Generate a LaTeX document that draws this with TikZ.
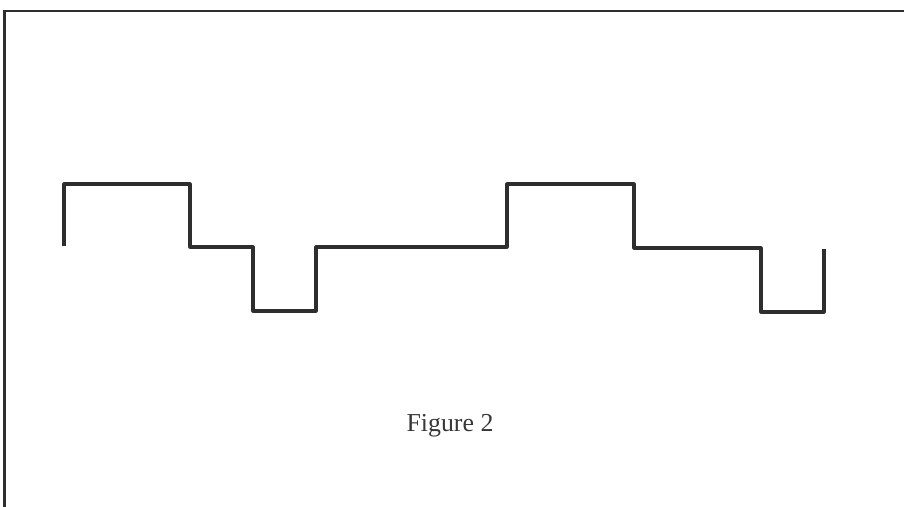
\documentclass[tikz,border=0pt]{standalone}
\usepackage{fontspec}
\setmainfont{Liberation Serif}
\begin{document}
\begin{tikzpicture}[x=0.75pt,y=-0.75pt,
  ink/.style={draw=black!82},
  frameline/.style={ink,line width=2pt},
  wave/.style={ink,line width=2.3pt,line join=round,line cap=butt},
  caption/.style={text=black!78,font=\fontsize{19.4}{22}\selectfont,inner sep=0pt}]
  \useasboundingbox (0,0) rectangle (904,507);
  % frame: top edge and left edge
  \coordinate (tl) at (4.5,11);
  \coordinate (tr) at (904,11);
  \coordinate (bl) at (4.5,507);
  \draw[frameline] (tr) -- (tl) -- (bl);
  % stepped waveform with three levels
  \draw[wave] (64,246) -- (64,184) -- (190,184) -- (190,247) -- (253,247)
    -- (253,311) -- (316,311) -- (316,247) -- (507,247) -- (507,184)
    -- (634,184) -- (634,248) -- (761,248) -- (761,312) -- (824,312) -- (824,249);
  % caption
  \node[caption,anchor=base] (cap) at (450,431) {Figure 2};
\end{tikzpicture}
\end{document}
